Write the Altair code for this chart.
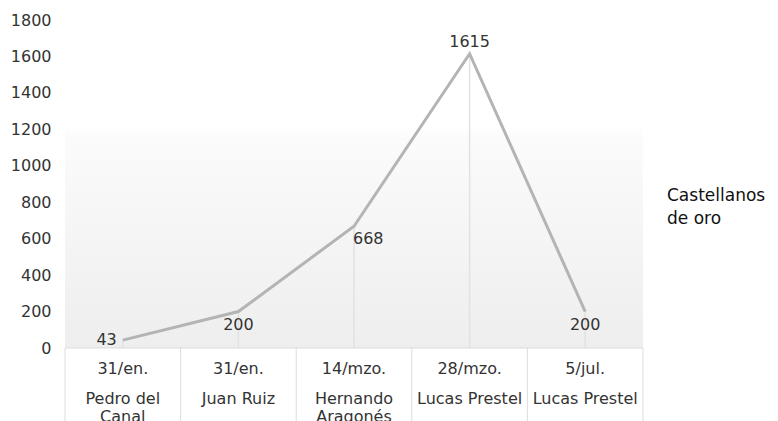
import altair as alt
import pandas as pd

# ---- data ----
dates = ["31/en.", "31/en.", "14/mzo.", "28/mzo.", "5/jul."]
names = ["Pedro del\nCanal", "Juan Ruiz", "Hernando\nAragonés", "Lucas Prestel", "Lucas Prestel"]
values = [43, 200, 668, 1615, 200]
series_name = "Castellanos\nde oro"
y_ticks = [0, 200, 400, 600, 800, 1000, 1200, 1400, 1600, 1800]

n = len(values)
df = pd.DataFrame({
    "i": list(range(n)),
    "date": dates,
    "name": names,
    "value": values,
    "zero": [0] * n,
})
bounds = pd.DataFrame({"b": [k - 0.5 for k in range(n + 1)]})
bgdf = pd.DataFrame({"x0": [-0.5], "x1": [n - 0.5], "y0": [0], "value": [1215]})

FONT = "DejaVu Sans"
W, H = 578, 328

xscale = alt.Scale(domain=[-0.5, n - 0.5], nice=False, zero=False)
yscale = alt.Scale(domain=[0, 1800], nice=False, zero=True)
yaxis = alt.Axis(values=y_ticks, format="d", grid=False, domain=False, ticks=False,
                 labelFont=FONT, labelFontSize=16, labelColor="#333333",
                 labelPadding=14, title=None)
x = alt.X("i:Q", scale=xscale, axis=None)
y = alt.Y("value:Q", scale=yscale, axis=yaxis)

base = alt.Chart(df)

bg = alt.Chart(bgdf).mark_rect(
    color=alt.Gradient(gradient="linear",
                       stops=[alt.GradientStop(color="#ffffff", offset=0),
                              alt.GradientStop(color="#fbfbfb", offset=0.05),
                              alt.GradientStop(color="#eeeeee", offset=1)],
                       x1=0, x2=0, y1=0, y2=1)
).encode(
    x=alt.X("x0:Q", scale=xscale, axis=None),
    x2="x1:Q",
    y=alt.Y("value:Q", scale=yscale, axis=yaxis),
    y2="y0:Q",
)

drops = base.mark_rule(color="#e2e2e2", strokeWidth=1.5).encode(x=x, y=y, y2="zero:Q")

axis_line = base.transform_filter("datum.i == 0").mark_rule(color="#dddddd", strokeWidth=1).encode(
    x=alt.value(0), x2=alt.value(W), y=alt.value(H))

seps = alt.Chart(bounds).mark_rule(color="#dddddd", strokeWidth=1).encode(
    x=alt.X("b:Q", scale=xscale, axis=None),
    y=alt.value(H), y2=alt.value(H + 80))

line = base.mark_line(color="#b4b4b4", strokeWidth=3).encode(x=x, y=y)

lab_style = dict(font=FONT, fontSize=16, color="#333333")
lab_left = base.transform_filter("datum.i == 0").mark_text(align="right", baseline="middle", dx=-6, **lab_style).encode(
    x=x, y=y, text="value:Q")
lab_below = base.transform_filter("datum.i == 1 || datum.i == 4").mark_text(align="center", baseline="top", dy=5, **lab_style).encode(
    x=x, y=y, text="value:Q")
lab_below_r = base.transform_filter("datum.i == 2").mark_text(align="left", baseline="top", dx=-1, dy=5, **lab_style).encode(
    x=x, y=y, text="value:Q")
lab_above = base.transform_filter("datum.i == 3").mark_text(align="center", baseline="bottom", dy=-4, **lab_style).encode(
    x=x, y=y, text="value:Q")

date_txt = base.mark_text(align="center", baseline="middle", **lab_style).encode(
    x=x, y=alt.value(H + 21), text="date:N")
name_txt = base.mark_text(align="center", baseline="middle", lineBreak="\n", lineHeight=18, **lab_style).encode(
    x=x, y=alt.value(H + 51), text="name:N")

legend = alt.Chart(pd.DataFrame({"t": [series_name]})).mark_text(
    align="left", baseline="alphabetic", lineBreak="\n", lineHeight=23, font=FONT, fontSize=17, color="#111111"
).encode(x=alt.value(W + 24), y=alt.value(181), text="t:N")

chart = alt.layer(bg, drops, axis_line, seps, line, lab_left, lab_below, lab_below_r, lab_above,
                  date_txt, name_txt, legend).properties(
    width=W, height=H,
    autosize=alt.AutoSizeParams(type="none"),
    padding={"left": 57, "top": 12, "right": 127, "bottom": 73},
).configure_view(stroke=None)

chart.save("out.html", embed_options={"renderer": "svg", "actions": False})
